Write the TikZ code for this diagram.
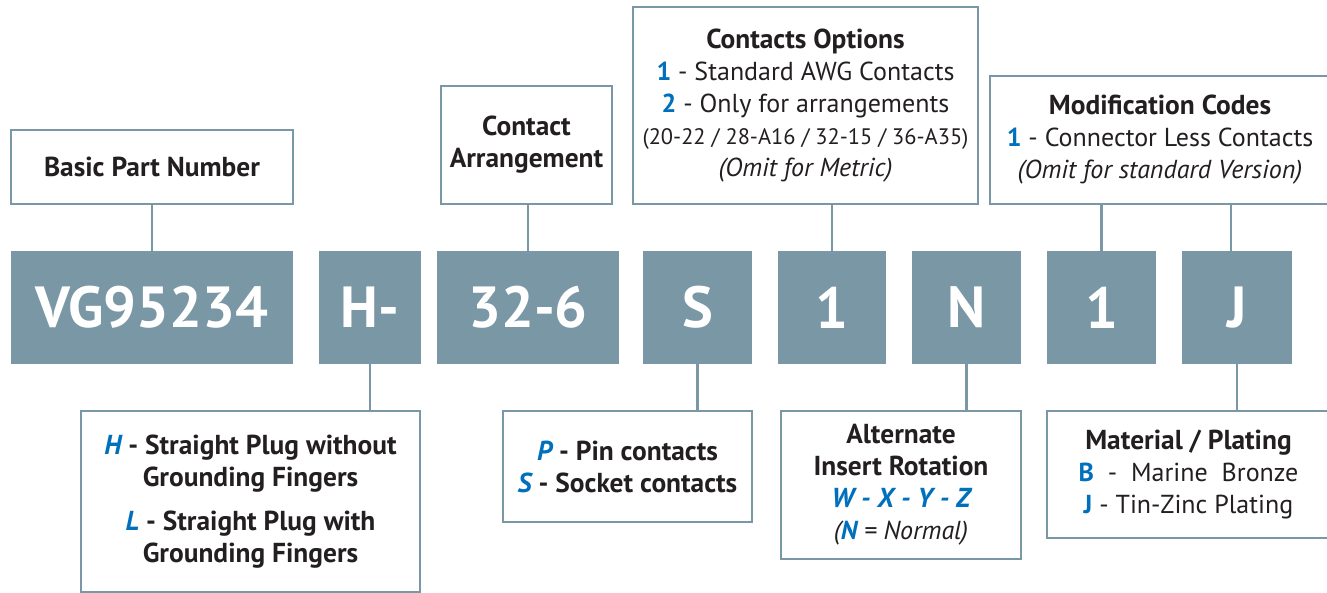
\documentclass[tikz,border=0pt]{standalone}
\usepackage{fontspec}
\setmainfont{PT Sans}
\usepackage{xcolor}
\usepackage{tikz}
\usetikzlibrary{positioning}
\definecolor{codegray}{RGB}{122,151,165}
\definecolor{codeblue}{RGB}{0,112,188}
\definecolor{codeink}{RGB}{35,31,32}

\newcommand{\bl}[1]{\textcolor{codeblue}{#1}}
\newcommand{\bft}{\fontsize{27.4}{32}\selectfont\bfseries}

\begin{document}
\begin{tikzpicture}[x=1pt, y=-1pt,
  %% styles
  codebox/.style={rectangle, fill=codegray, inner sep=0pt,
                  minimum height=113pt, minimum width=#1,
                  text=white, font=\fontsize{58}{58}\selectfont\bfseries},
  infobox/.style={rectangle, draw=codegray, line width=2.2pt, fill=white,
                  inner sep=0pt, minimum width=#1, align=center,
                  text=codeink, font=\fontsize{26}{32}\selectfont},
  link/.style={draw=codegray, line width=2.2pt},
]

%% page size (reference proportions)
\clip (0,0) rectangle (1327,593);

%% ------ code boxes ---------------------------------------------------
\def\Cy{307.5}
\node[codebox=282pt] (vg)   at (152,\Cy)    {VG95234};
\node[codebox=102pt] (hy)   at (370,\Cy)    {H-};
\node[codebox=182pt] (arr)  at (528,\Cy)    {32-6};
\node[codebox=109pt] (sock) at (697.5,\Cy)  {S};
\node[codebox=108pt] (opt)  at (832,\Cy)    {1};
\node[codebox=109pt] (rot)  at (966.5,\Cy)  {N};
\node[codebox=109pt] (mod)  at (1101.5,\Cy) {1};
\node[codebox=110pt] (mat)  at (1237,\Cy)   {J};

%% ------ upper info boxes ---------------------------------------------
\node[infobox=282pt, minimum height=74pt] (basic) at (152,167)
  {\bft Basic Part Number};

\node[infobox=171pt, minimum height=118pt] (arrange) at (526.5,145)
  {\bft Contact\\\bft Arrangement};

\node[infobox=345pt, minimum height=197pt] (options) at (805.5,105.5)
  {\bft Contacts Options\\
   \bl{\bfseries 1} - Standard AWG Contacts\\
   \bl{\bfseries 2} - Only for arrangements\\
   {\fontsize{22.4}{32}\selectfont (20-22 / 28-A16 / 32-15 / 36-A35)}\\
   \itshape (Omit for Metric)};

\node[infobox=340pt, minimum height=128pt] (modif) at (1160,140)
  {\bft Modification Codes\\
   \bl{\bfseries 1} - Connector Less Contacts\\
   \itshape (Omit for standard Version)};

%% ------ lower info boxes ---------------------------------------------
\node[infobox=339pt, minimum height=181pt, font=\bft]
  (plug) at (250.5,501.5)
  {\bl{\itshape H} - Straight Plug without\\
   Grounding Fingers\\[12pt]
   \bl{\itshape L} - Straight Plug with\\
   Grounding Fingers};

\node[infobox=249pt, minimum height=111pt, font=\bft]
  (pins) at (627.5,466.5)
  {\bl{\itshape P} - Pin contacts\\
   \bl{\itshape S} - Socket contacts};

\node[infobox=240pt, minimum height=148pt] (insert) at (901,485)
  {\bft Alternate\\
   \bft Insert Rotation\\
   \bl{\bft\itshape W - X - Y - Z}\\
   \itshape (\bl{\bfseries N} = Normal)};

\node[infobox=283pt, minimum height=127pt] (plating) at (1188.5,474.5)
  {\bft Material / Plating\\
   \bl{\bfseries B}\ \ -\ \ Marine\ \ Bronze\\
   \bl{\bfseries J} - Tin-Zinc Plating};

%% ------ connectors ---------------------------------------------------
\draw[link] (basic.south) -- (vg.north);
\draw[link] (arr.north |- arrange.south) -- (arr.north);
\draw[link] (opt.north |- options.south) -- (opt.north);
\draw[link] (mod.north |- modif.south) -- (mod.north);
\draw[link] ([xshift=-6pt]mat.north |- modif.south) -- ([xshift=-6pt]mat.north);

\draw[link] (hy.south) -- (hy.south |- plug.north);
\draw[link] (sock.south) -- (sock.south |- pins.north);
\draw[link] (rot.south) -- (rot.south |- insert.north);
\draw[link] (mat.south) -- (mat.south |- plating.north);

\end{tikzpicture}
\end{document}
